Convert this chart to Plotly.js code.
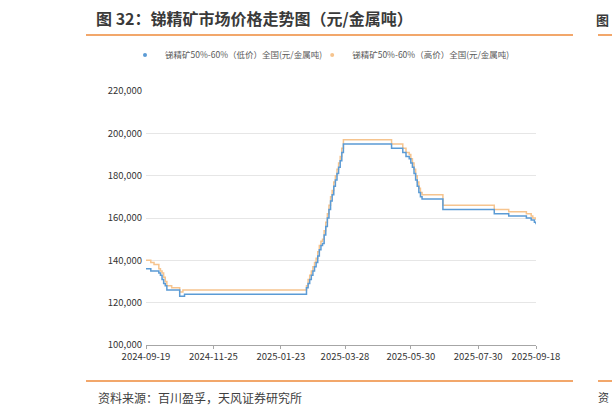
<!DOCTYPE html>
<html>
<head>
<meta charset="utf-8">
<script src="https://cdn.plot.ly/plotly-3.0.1.min.js"></script>
<style>html,body{margin:0;padding:0;background:#fff;}#chart{width:612px;height:415px;}</style>
</head>
<body>
<div id="chart"></div>
<script>
// Series names
var seriesLow = "锑精矿50%-60%（低价）全国(元/金属吨)";
var seriesHigh = "锑精矿50%-60%（高价）全国(元/金属吨)";

// Low price: dates where the price changed, and the new price
var lowDates = ["2024-09-19","2024-09-24","2024-10-08","2024-10-09","2024-10-10","2024-10-11","2024-10-14","2024-10-15","2024-10-25","2024-10-30",
  "2025-02-24","2025-02-25","2025-02-26","2025-02-27","2025-02-28","2025-03-03","2025-03-04","2025-03-05","2025-03-06","2025-03-07",
  "2025-03-10","2025-03-11","2025-03-12","2025-03-13","2025-03-14","2025-03-17","2025-03-18","2025-03-19","2025-03-20","2025-03-21",
  "2025-03-24","2025-03-25","2025-03-26","2025-03-27",
  "2025-05-14","2025-05-23","2025-05-27","2025-05-29","2025-05-30","2025-06-03","2025-06-04","2025-06-05","2025-06-06","2025-06-09","2025-06-10","2025-06-11",
  "2025-06-30","2025-08-13","2025-08-26","2025-09-10","2025-09-15","2025-09-17","2025-09-18"];
var lowValues = [136000,135000,134000,133000,131000,129000,128000,126000,123000,124000,
  127000,129000,131000,133000,135000,137000,139000,142000,145000,147000,
  148000,152000,156000,160000,164000,168000,171000,175000,178000,181000,
  184000,187000,191000,195000,
  193000,191000,189000,188000,186000,184000,181000,178000,175000,172000,170000,169000,
  164000,162000,161000,160000,159000,158000,157000];

// High price: dates where the price changed, and the new price
var highDates = ["2024-09-19","2024-09-24","2024-09-26","2024-10-08","2024-10-09","2024-10-10","2024-10-11","2024-10-14","2024-10-15","2024-10-18","2024-10-25","2024-10-29",
  "2025-02-24","2025-02-25","2025-02-26","2025-02-27","2025-02-28","2025-03-03","2025-03-04","2025-03-05","2025-03-06","2025-03-07",
  "2025-03-10","2025-03-11","2025-03-12","2025-03-13","2025-03-14","2025-03-17","2025-03-18","2025-03-19","2025-03-20","2025-03-21",
  "2025-03-24","2025-03-25","2025-03-26","2025-03-27",
  "2025-05-14","2025-05-23","2025-05-27","2025-05-29","2025-05-30","2025-06-03","2025-06-04","2025-06-05","2025-06-06","2025-06-09","2025-06-10","2025-06-11",
  "2025-06-30","2025-08-13","2025-08-26","2025-09-10","2025-09-15","2025-09-16","2025-09-18"];
var highValues = [140000,139000,138000,136000,135000,134000,132000,130000,128000,127000,125000,126000,
  128000,131000,133000,135000,137000,139000,141000,144000,147000,149000,
  150000,154000,158000,162000,166000,170000,173000,177000,180000,183000,
  186000,189000,193000,197000,
  195000,193000,191000,190000,188000,186000,183000,180000,177000,174000,172000,171000,
  166000,164000,163000,162000,161000,160000,159000];

// Non-trading weekdays (exchange holidays) removed from the axis
var holidays = ["2024-10-01","2024-10-02","2024-10-03","2024-10-04","2024-10-07","2025-01-01",
  "2025-01-28","2025-01-29","2025-01-30","2025-01-31","2025-02-03","2025-02-04",
  "2025-04-04","2025-05-01","2025-05-02","2025-05-05","2025-06-02"];

// Axis ticks
var xTickLabels = ["2024-09-19","2024-11-25","2025-01-23","2025-03-28","2025-05-30","2025-07-30","2025-09-18"];
var yTickValues = [100000,120000,140000,160000,180000,200000,220000];

var blue = "#5b9bd5", orange = "#f6c48e";
var FONT = "Noto Sans CJK SC, Noto Sans, sans-serif";

var traces = [
  {x: highDates, y: highValues, type: "scatter", mode: "lines", line: {color: orange, width: 1.5, shape: "hv"}, name: seriesHigh, showlegend: false, hoverinfo: "skip"},
  {x: lowDates, y: lowValues, type: "scatter", mode: "lines", line: {color: blue, width: 1.5, shape: "hv"}, name: seriesLow, showlegend: false, hoverinfo: "skip"},
  {x: [null], y: [null], type: "scatter", mode: "markers", marker: {color: blue, size: 4}, name: seriesLow, showlegend: true},
  {x: [null], y: [null], type: "scatter", mode: "markers", marker: {color: orange, size: 4}, name: seriesHigh, showlegend: true}
];

// plot area in pixels: x 146..536, y 91..345
function px(x){ return (x - 146) / 390; }
function py(y){ return (345 - y) / 254; }
var lineOrange = "#ee8a3a";

var layout = {
  width: 612, height: 415,
  margin: {l: 146, r: 76, t: 91, b: 70, pad: 0},
  paper_bgcolor: "#ffffff", plot_bgcolor: "#ffffff",
  font: {family: FONT, color: "#404040"},
  title: {text: "图 32：锑精矿市场价格走势图（元/金属吨）", xref: "container", yref: "container", x: 96/612, xanchor: "left", y: 1 - 19/415, yanchor: "middle",
          font: {family: FONT, size: 16, color: "#3a3a3a", weight: "bold"}},
  xaxis: {
    type: "date", range: ["2024-09-19", "2025-09-18"],
    rangebreaks: [{bounds: ["sat", "mon"]}, {values: holidays}],
    tickmode: "array", tickvals: xTickLabels, ticktext: xTickLabels,
    showgrid: false, zeroline: false, showline: true, linecolor: "#a6a6a6", linewidth: 1,
    ticks: "outside", ticklen: 3, tickcolor: "#a6a6a6",
    tickfont: {family: FONT, size: 9.5, color: "#333333"}, fixedrange: true
  },
  yaxis: {
    range: [100000, 220000], tickmode: "array", tickvals: yTickValues, tickformat: ",d",
    showgrid: true, gridcolor: "#e6e6e6", gridwidth: 1, zeroline: false, showline: false, ticks: "",
    ticklabelstandoff: 3,
    tickfont: {family: FONT, size: 9.5, color: "#333333"}, fixedrange: true
  },
  showlegend: true,
  legend: {orientation: "h", x: px(140), xanchor: "left", y: py(55), yanchor: "middle", indentation: -15,
           font: {family: FONT, size: 8.5, color: "#595959"}, itemwidth: 30, bgcolor: "rgba(0,0,0,0)", tracegroupgap: 0},
  shapes: [
    {type: "line", xref: "paper", yref: "paper", x0: px(86), x1: px(573), y0: py(35), y1: py(35), line: {color: lineOrange, width: 1.5}},
    {type: "line", xref: "paper", yref: "paper", x0: px(598), x1: px(620), y0: py(35), y1: py(35), line: {color: lineOrange, width: 1.5}},
    {type: "line", xref: "paper", yref: "paper", x0: px(86), x1: px(573), y0: py(381), y1: py(381), line: {color: lineOrange, width: 1.5}},
    {type: "line", xref: "paper", yref: "paper", x0: px(598), x1: px(620), y0: py(381), y1: py(381), line: {color: lineOrange, width: 1.5}}
  ],
  annotations: [
    {text: "资料来源：百川盈孚，天风证券研究所", xref: "paper", yref: "paper", x: px(96), y: py(397), xanchor: "left", yanchor: "middle", showarrow: false,
     font: {family: FONT, size: 12, color: "#404040"}},
    {text: "图", xref: "paper", yref: "paper", x: px(611), y: py(19), xanchor: "right", yanchor: "middle", showarrow: false,
     font: {family: FONT, size: 13, color: "#3a3a3a", weight: "bold"}},
    {text: "资", xref: "paper", yref: "paper", x: px(611), y: py(397), xanchor: "right", yanchor: "middle", showarrow: false,
     font: {family: FONT, size: 11, color: "#404040"}}
  ]
};

Plotly.newPlot("chart", traces, layout, {staticPlot: true, displayModeBar: false});
</script>
</body>
</html>
